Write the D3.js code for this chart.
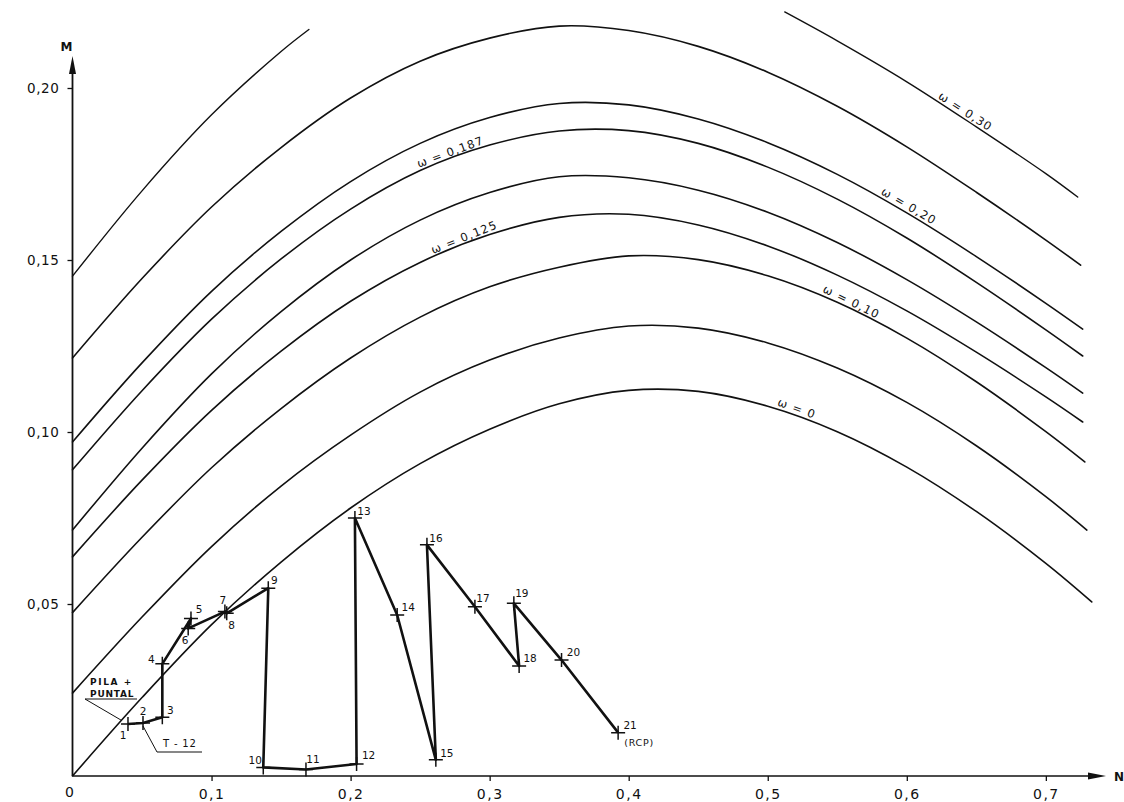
<!DOCTYPE html>
<html>
<head>
<meta charset="utf-8">
<script src="https://cdn.jsdelivr.net/npm/d3@7"></script>
<style>
  html, body { margin: 0; padding: 0; background: #fff; }
  svg { display: block; }
  text { font-family: "DejaVu Sans", "Liberation Sans", sans-serif; fill: #111; }
</style>
</head>
<body>
<svg id="chart" width="1124" height="802"></svg>
<script>
// ---- Interaction diagram data: reduced axial force N vs reduced moment M ----
const nGrid = [0, 0.05, 0.10, 0.15, 0.20, 0.25, 0.30, 0.35, 0.40, 0.45, 0.50, 0.55, 0.60, 0.65, 0.70];

const omegaValues = [0, 0.05, 0.10, 0.125, 0.15, 0.187, 0.20, 0.25];
const curveEndN   = [0.733, 0.7295, 0.728, 0.7265, 0.7265, 0.7265, 0.7265, 0.725];

const mOmega0    = [0, 0.0228, 0.0440, 0.0622, 0.0779, 0.0908, 0.1008, 0.1082, 0.1121, 0.1118, 0.1075, 0.1001, 0.0898, 0.0769, 0.0618, 0.0506];
const mOmega005  = [0.0241, 0.0462, 0.0667, 0.0843, 0.0991, 0.1116, 0.1209, 0.1273, 0.1308, 0.1302, 0.1259, 0.1186, 0.1086, 0.0960, 0.0812, 0.0715];
const mOmega010  = [0.0475, 0.0694, 0.0896, 0.1068, 0.1215, 0.1334, 0.1422, 0.1479, 0.1512, 0.1501, 0.1454, 0.1377, 0.1273, 0.1146, 0.1001, 0.0913];
const mOmega0125 = [0.0637, 0.0860, 0.1063, 0.1235, 0.1380, 0.1493, 0.1574, 0.1624, 0.1633, 0.1602, 0.1541, 0.1456, 0.1352, 0.1232, 0.1102, 0.1029];
const mOmega015  = [0.0715, 0.0953, 0.1169, 0.1350, 0.1500, 0.1616, 0.1696, 0.1742, 0.1739, 0.1703, 0.1639, 0.1551, 0.1443, 0.1320, 0.1187, 0.1113];
const mOmega0187 = [0.0890, 0.1120, 0.1328, 0.1503, 0.1648, 0.1760, 0.1834, 0.1875, 0.1876, 0.1839, 0.1770, 0.1677, 0.1564, 0.1435, 0.1297, 0.1221];
const mOmega020  = [0.0971, 0.1201, 0.1409, 0.1583, 0.1728, 0.1839, 0.1914, 0.1955, 0.1951, 0.1910, 0.1841, 0.1749, 0.1637, 0.1510, 0.1374, 0.1299];
const mOmega025  = [0.1215, 0.1446, 0.1654, 0.1827, 0.1971, 0.2078, 0.2145, 0.2180, 0.2167, 0.2121, 0.2046, 0.1947, 0.1829, 0.1697, 0.1558, 0.1485];

// omega = 0.30 runs off the top of the sheet, so it is drawn in two pieces
const nOmega030Left  = [0, 0.05, 0.10, 0.15, 0.17];
const mOmega030Left  = [0.1453, 0.1701, 0.1922, 0.2106, 0.2170];
const nOmega030Right = [0.5122, 0.55, 0.60, 0.65, 0.70, 0.7229];
const mOmega030Right = [0.2221, 0.2137, 0.2018, 0.1887, 0.1751, 0.1683];

// load path of the section, steps 1 .. 21
const stepIds = ["1","2","3","4","5","6","7","8","9","10","11","12","13","14","15","16","17","18","19","20","21"];
const stepN = [0.0399, 0.0507, 0.0646, 0.0646, 0.0852, 0.0832, 0.1096, 0.1109, 0.1408, 0.1372, 0.1679, 0.2043, 0.2031, 0.2335, 0.2613, 0.2549, 0.2894, 0.3212, 0.3174, 0.3517, 0.3924];
const stepM = [0.0151, 0.0154, 0.0171, 0.0326, 0.0458, 0.0429, 0.0478, 0.0473, 0.0546, 0.0025, 0.0019, 0.0035, 0.0750, 0.0468, 0.0047, 0.0672, 0.0492, 0.0320, 0.0502, 0.0337, 0.0126];

// axis ticks
const mTicks = [0.05, 0.10, 0.15, 0.20];
const mTickLabels = ["0,05", "0,10", "0,15", "0,20"];
const nTicks = [0.1, 0.2, 0.3, 0.4, 0.5, 0.6, 0.7];
const nTickLabels = ["0,1", "0,2", "0,3", "0,4", "0,5", "0,6", "0,7"];

// ---- layout / styling ----
const W = 1124, H = 802;
const X0 = 72.5, Y0 = 776;
const pxPerN = 1390.5, pxPerM = 3440;

const svg = d3.select("#chart");
svg.append("rect").attr("width", W).attr("height", H).attr("fill", "#fff");

const x = d3.scaleLinear().domain([0, 0.74]).range([X0, X0 + 0.74 * pxPerN]);
const y = d3.scaleLinear().domain([0, 0.22]).range([Y0, Y0 - 0.22 * pxPerM]);

const g = svg.append("g");

// ---- axes ----
const yAxis = d3.axisLeft(y).tickValues(mTicks)
  .tickFormat((d, i) => mTickLabels[i]).tickSize(5).tickPadding(8);
const yAxisG = g.append("g").attr("transform", `translate(${X0},0)`).call(yAxis);
yAxisG.select(".domain").remove();
yAxisG.selectAll("line").attr("stroke", "#111").attr("stroke-width", 1.3);
yAxisG.selectAll("text").attr("font-size", 13.5).attr("letter-spacing", 0.6).attr("fill", "#111");

const xAxis = d3.axisBottom(x).tickValues(nTicks)
  .tickFormat((d, i) => nTickLabels[i]).tickSize(5).tickPadding(8);
const xAxisG = g.append("g").attr("transform", `translate(0,${Y0})`).call(xAxis);
xAxisG.select(".domain").remove();
xAxisG.selectAll("line").attr("stroke", "#111").attr("stroke-width", 1.3);
xAxisG.selectAll("text").attr("font-size", 14).attr("letter-spacing", 1.5).attr("fill", "#111");

// origin label
g.append("text").attr("x", X0 - 3).attr("y", 797).attr("text-anchor", "middle")
  .attr("font-size", 14).text("0");

// axis lines with arrowheads
const axisTopY = 60, axisRightX = 1104;
g.append("line").attr("x1", X0).attr("y1", Y0).attr("x2", X0).attr("y2", axisTopY + 6)
  .attr("stroke", "#111").attr("stroke-width", 1.8);
g.append("path").attr("d", `M${X0 - 3.5},${axisTopY + 14} L${X0 + 3.5},${axisTopY + 14} L${X0},${axisTopY - 4} Z`)
  .attr("fill", "#111");
g.append("text").attr("x", X0 - 6).attr("y", axisTopY - 9).attr("text-anchor", "middle")
  .attr("font-size", 12).attr("font-weight", "bold").text("M");

g.append("line").attr("x1", X0).attr("y1", Y0).attr("x2", axisRightX - 6).attr("y2", Y0)
  .attr("stroke", "#111").attr("stroke-width", 1.6);
g.append("path").attr("d", `M${axisRightX - 16},${Y0 - 3.5} L${axisRightX - 16},${Y0 + 3.5} L${axisRightX + 2},${Y0} Z`)
  .attr("fill", "#111");
g.append("text").attr("x", axisRightX + 10).attr("y", Y0 + 5).attr("text-anchor", "start")
  .attr("font-size", 12).attr("font-weight", "bold").text("N");

// ---- omega curves ----
const curveM = [mOmega0, mOmega005, mOmega010, mOmega0125, mOmega015, mOmega0187, mOmega020, mOmega025];
const curves = curveM.map((ms, i) => ms.map((m, j) => [j < nGrid.length ? nGrid[j] : curveEndN[i], m]));
const omega030Left = nOmega030Left.map((n, j) => [n, mOmega030Left[j]]);
const omega030Right = nOmega030Right.map((n, j) => [n, mOmega030Right[j]]);

const line = d3.line().x(d => x(d[0])).y(d => y(d[1])).curve(d3.curveCatmullRom.alpha(0.5));

const curveG = g.append("g").attr("fill", "none").attr("stroke", "#111")
  .attr("stroke-width", 1.6).attr("stroke-linecap", "round");
curves.forEach(c => curveG.append("path").attr("d", line(c)));
curveG.append("path").attr("d", line(omega030Left)).attr("stroke-width", 1.4);
curveG.append("path").attr("d", line(omega030Right)).attr("stroke-width", 1.4);

// ---- curve labels, written along each curve ----
function interpM(pts, n) {
  for (let k = 0; k < pts.length - 1; k++) {
    const a = pts[k], b = pts[k + 1];
    if (n >= a[0] && n <= b[0]) return a[1] + (b[1] - a[1]) * (n - a[0]) / (b[0] - a[0]);
  }
  return pts[pts.length - 1][1];
}
const labelSpec = [
  { pts: curves[0], text: "ω = 0",     n: 0.519,  gap: 4 },
  { pts: curves[2], text: "ω = 0,10",  n: 0.558,  gap: 3 },
  { pts: curves[3], text: "ω = 0,125", n: 0.2836, gap: 3 },
  { pts: curves[5], text: "ω = 0,187", n: 0.2735, gap: 3 },
  { pts: curves[6], text: "ω = 0,20",  n: 0.599,  gap: 3 },
  { pts: omega030Right, text: "ω = 0,30", n: 0.6395, gap: 3 }
];
labelSpec.forEach(s => {
  const px = x(s.n), py = y(interpM(s.pts, s.n));
  const dn = 0.012;
  const x1 = x(s.n - dn), y1 = y(interpM(s.pts, s.n - dn));
  const x2 = x(s.n + dn), y2 = y(interpM(s.pts, s.n + dn));
  const ang = Math.atan2(y2 - y1, x2 - x1);
  const tx = px + Math.sin(ang) * s.gap, ty = py - Math.cos(ang) * s.gap;
  g.append("text")
    .attr("transform", `translate(${tx},${ty}) rotate(${ang * 180 / Math.PI})`)
    .attr("text-anchor", "middle").attr("font-size", 11.5).attr("letter-spacing", 1.2)
    .text(s.text);
});

// ---- load path ----
const steps = stepN.map((n, i) => ({ id: stepIds[i], n, m: stepM[i] }));
const pathLine = d3.line().x(d => x(d.n)).y(d => y(d.m));
g.append("path").attr("d", pathLine(steps)).attr("fill", "none")
  .attr("stroke", "#111").attr("stroke-width", 2.6).attr("stroke-linejoin", "round");

const crossSize = 7;
g.append("g").attr("stroke", "#111").attr("stroke-width", 1.5).selectAll("path")
  .data(steps).join("path")
  .attr("d", d => {
    const cx = x(d.n), cy = y(d.m);
    return `M${cx - crossSize},${cy} h${2 * crossSize} M${cx},${cy - crossSize} v${2 * crossSize}`;
  });

const stepLabelOffset = [[-5,11],[0,-12],[8,-7],[-11,-5],[8,-9],[-3,12],[-2,-12],[5,12],[6,-8],[-8,-7],
                         [7,-10],[12,-9],[9,-7],[11,-8],[11,-7],[9,-7],[8,-9],[11,-8],[8,-10],[12,-8],[12,-8]];
g.append("g").selectAll("text").data(steps).join("text")
  .attr("x", (d, i) => x(d.n) + stepLabelOffset[i][0])
  .attr("y", (d, i) => y(d.m) + stepLabelOffset[i][1])
  .attr("text-anchor", "middle").attr("dominant-baseline", "central")
  .attr("font-size", 10.5).text(d => d.id);

// final step note
const last = steps[steps.length - 1];
g.append("text").attr("x", x(last.n) + 6).attr("y", y(last.m) + 13)
  .attr("font-size", 9.5).attr("letter-spacing", 0.8).text("(RCP)");

// ---- annotations near the first steps ----
const p1 = steps[0], p2 = steps[1];
const ann = g.append("g");
ann.append("text").attr("x", 90).attr("y", 685).attr("font-size", 9).attr("letter-spacing", 1.6)
  .attr("font-weight", "bold").text("PILA +");
ann.append("text").attr("x", 90).attr("y", 697).attr("font-size", 9).attr("letter-spacing", 0.8)
  .attr("font-weight", "bold").text("PUNTAL");
ann.append("line").attr("x1", 85).attr("y1", 699).attr("x2", 137).attr("y2", 699)
  .attr("stroke", "#111").attr("stroke-width", 1.2);
ann.append("line").attr("x1", 85).attr("y1", 699).attr("x2", x(p1.n) - 7).attr("y2", y(p1.m) - 4)
  .attr("stroke", "#111").attr("stroke-width", 1);

ann.append("text").attr("x", 163).attr("y", 747).attr("font-size", 10).attr("letter-spacing", 0.8)
  .text("T - 12");
ann.append("line").attr("x1", 157).attr("y1", 752).attr("x2", 202).attr("y2", 752)
  .attr("stroke", "#111").attr("stroke-width", 1.1);
ann.append("line").attr("x1", 157).attr("y1", 752).attr("x2", x(p2.n)).attr("y2", y(p2.m) + 3)
  .attr("stroke", "#111").attr("stroke-width", 1);
</script>
</body>
</html>
